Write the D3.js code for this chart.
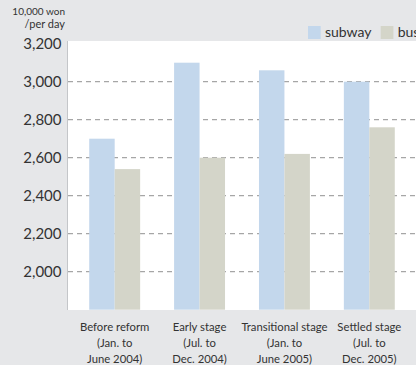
<!DOCTYPE html>
<html>
<head>
<meta charset="utf-8">
<script src="https://cdn.jsdelivr.net/npm/d3@7/dist/d3.min.js"></script>
<style>
  html, body { margin: 0; padding: 0; background: #e6e7e9; }
  svg { display: block; font-family: Lato, "Open Sans", sans-serif; }
</style>
</head>
<body>
<svg id="chart" width="416" height="365"></svg>
<script>
// Average daily revenue by period (10,000 won per day)
const periods = [
  ["Before reform", "(Jan. to", "June 2004)"],
  ["Early stage", "(Jul. to", "Dec. 2004)"],
  ["Transitional stage", "(Jan. to", "June 2005)"],
  ["Settled stage", "(Jul. to", "Dec. 2005)"]
];
const seriesNames = ["subway", "bus"];
const subwayValues = [2700, 3100, 3060, 3000];
const busValues = [2540, 2600, 2620, 2760];
const yTicks = [2000, 2200, 2400, 2600, 2800, 3000, 3200];
const gridTicks = [2000, 2200, 2400, 2600, 2800, 3000];
const seriesColors = ["#c3d7ec", "#d4d5c9"];

const svg = d3.select("#chart");
const plot = { left: 68, right: 416, top: 41, bottom: 310 };

const y = d3.scaleLinear().domain([1800, 3200]).range([309.7, 43.7]);
const x0 = d3.scaleBand().domain(d3.range(periods.length))
  .range([plot.left, plot.right]).paddingInner(0.4).paddingOuter(0.25);
const x1 = d3.scaleBand().domain(seriesNames).range([0, x0.bandwidth()]);
const color = d3.scaleOrdinal().domain(seriesNames).range(seriesColors);

// White plotting area
svg.append("rect")
  .attr("x", plot.left).attr("y", plot.top)
  .attr("width", plot.right - plot.left).attr("height", plot.bottom - plot.top)
  .attr("fill", "#ffffff");

// Dashed gridlines
svg.append("g").selectAll("line").data(gridTicks).join("line")
  .attr("x1", plot.left).attr("x2", plot.right)
  .attr("y1", d => y(d)).attr("y2", d => y(d))
  .attr("stroke", "#a6a6a6").attr("stroke-width", 1.2)
  .attr("stroke-dasharray", "5,4");

// Bars
const rows = periods.map((p, i) => ({ i, subway: subwayValues[i], bus: busValues[i] }));
const groups = svg.append("g").selectAll("g").data(rows).join("g")
  .attr("transform", d => `translate(${x0(d.i)},0)`);
groups.selectAll("rect")
  .data(d => seriesNames.map(k => ({ key: k, value: d[k] })))
  .join("rect")
  .attr("x", d => x1(d.key))
  .attr("width", x1.bandwidth())
  .attr("y", d => y(d.value))
  .attr("height", d => y(1800) - y(d.value))
  .attr("fill", d => color(d.key));

// Y axis
const yAxis = d3.axisLeft(y).tickValues(yTicks).tickSize(0).tickPadding(6)
  .tickFormat(d3.format(","));
const ga = svg.append("g").attr("transform", `translate(${plot.left - 0.5},0)`).call(yAxis);
ga.select(".domain").attr("stroke", "#c4c6c9").attr("d", `M0,${plot.top}V${plot.bottom}`);
ga.selectAll("text")
  .attr("font-size", 15).attr("fill", "#333").attr("font-family", "Lato, 'Open Sans', sans-serif");

// Unit label
svg.append("text").attr("x", 65).attr("y", 15)
  .attr("text-anchor", "end").attr("font-size", 10).attr("fill", "#333")
  .text("10,000 won");
svg.append("text").attr("x", 65).attr("y", 28)
  .attr("text-anchor", "end").attr("font-size", 11).attr("fill", "#333")
  .text("/per day");

// Category labels
const lab = svg.append("g").selectAll("text").data(periods).join("text")
  .attr("text-anchor", "middle")
  .attr("font-size", 11.3).attr("fill", "#333")
  .attr("x", (d, i) => x0(i) + x0.bandwidth() / 2)
  .attr("y", 331);
lab.selectAll("tspan").data(d => d).join("tspan")
  .attr("x", function () { return d3.select(this.parentNode).attr("x"); })
  .attr("dy", (d, j) => j === 0 ? 0 : 16)
  .text(d => d);

// Legend
const leg = svg.append("g").selectAll("g").data(seriesNames).join("g")
  .attr("transform", (d, i) => `translate(${308 + i * 72.7},26)`);
leg.append("rect").attr("width", 12.7).attr("height", 13).attr("fill", d => color(d));
leg.append("text").attr("x", 17).attr("y", 11).attr("font-size", 14).attr("fill", "#333")
  .text(d => d);
</script>
</body>
</html>
